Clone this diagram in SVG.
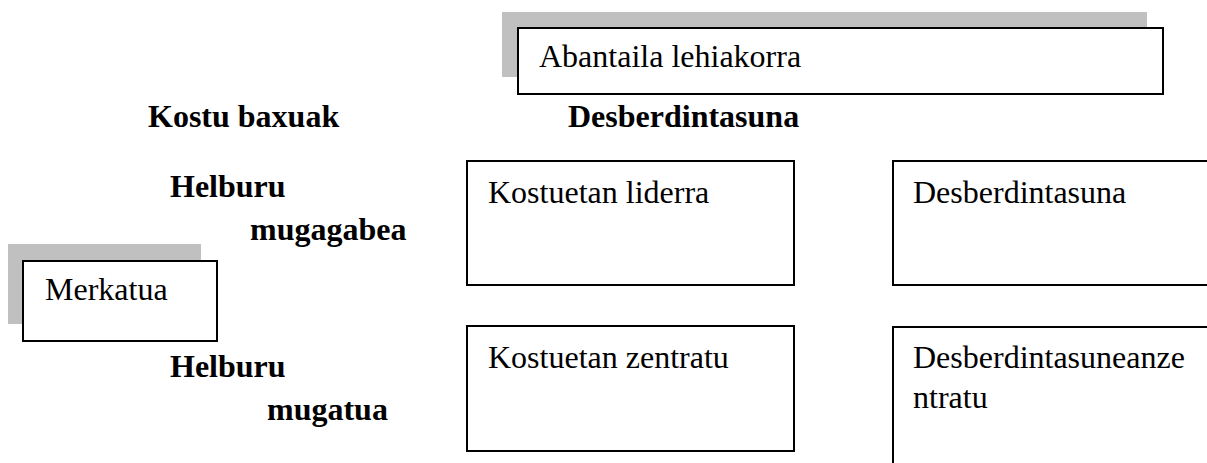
<svg xmlns="http://www.w3.org/2000/svg" width="1207" height="463" viewBox="0 0 1207 463">
<style>
.bg{fill:#ffffff}
.shadow{fill:#c0c0c0}
.box{fill:#ffffff;stroke:#000000;stroke-width:2}
.t{font-family:"Liberation Serif","Times New Roman",serif;font-size:32px;fill:#000000}
.b{font-family:"Liberation Serif","Times New Roman",serif;font-size:32px;font-weight:bold;fill:#000000}
</style>
<rect class="bg" x="0" y="0" width="1207" height="463"/>
<g id="abantaila">
<rect class="shadow" x="502" y="12" width="645" height="65"/>
<rect class="box" x="518" y="28" width="645" height="66"/>
<text class="t" x="539" y="67">Abantaila lehiakorra</text>
</g>
<g id="heading-kostu">
<text class="b" x="148" y="127">Kostu baxuak</text>
</g>
<g id="heading-desberdintasuna">
<text class="b" x="568" y="127">Desberdintasuna</text>
</g>
<g id="helburu-mugagabea">
<text class="b" x="170" y="197">Helburu</text>
<text class="b" x="250" y="240">mugagabea</text>
</g>
<g id="helburu-mugatua">
<text class="b" x="170" y="377">Helburu</text>
<text class="b" x="267" y="420">mugatua</text>
</g>
<g id="merkatua">
<rect class="shadow" x="8" y="244" width="193" height="80"/>
<rect class="box" x="23" y="261" width="194" height="80"/>
<text class="t" x="45" y="300">Merkatua</text>
</g>
<g id="kostuetan-liderra">
<rect class="box" x="467" y="161" width="327" height="124"/>
<text class="t" x="488" y="203">Kostuetan liderra</text>
</g>
<g id="desberdintasuna">
<rect class="box" x="893" y="161" width="330" height="124"/>
<text class="t" x="913" y="203">Desberdintasuna</text>
</g>
<g id="kostuetan-zentratu">
<rect class="box" x="467" y="326" width="327" height="125"/>
<text class="t" x="488" y="368">Kostuetan zentratu</text>
</g>
<g id="desberdintasunean-zentratu">
<rect class="box" x="893" y="327" width="330" height="150"/>
<text class="t" x="913" y="368">Desberdintasuneanze</text>
<text class="t" x="913" y="408">ntratu</text>
</g>
<g id="connectors"/>
</svg>
